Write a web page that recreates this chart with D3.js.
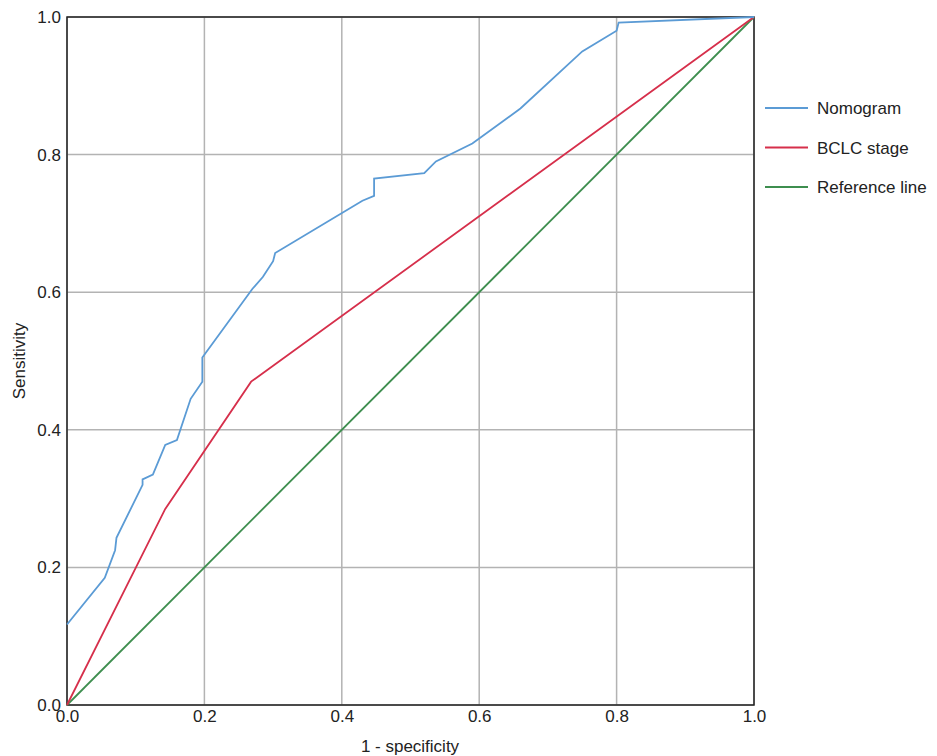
<!DOCTYPE html>
<html><head><meta charset="utf-8">
<script src="https://cdn.jsdelivr.net/npm/d3@7"></script>
<style>body{margin:0;background:#fff;font-family:"Liberation Sans",Arial,sans-serif}</style>
</head><body><svg id="c" width="937" height="756"></svg>
<script>
const ticks=[0,0.2,0.4,0.6,0.8,1.0];
const nomoX=[0,0.055,0.07,0.072,0.11,0.11,0.125,0.143,0.16,0.18,0.197,0.197,0.27,0.285,0.3,0.303,0.43,0.447,0.447,0.52,0.537,0.59,0.66,0.75,0.8,0.803,1];
const nomoY=[0.117,0.185,0.225,0.243,0.32,0.328,0.335,0.378,0.385,0.445,0.47,0.505,0.605,0.622,0.645,0.657,0.733,0.74,0.765,0.773,0.79,0.816,0.867,0.95,0.98,0.992,1];
const bclcX=[0,0.143,0.268,1];
const bclcY=[0,0.285,0.47,1];
const refX=[0,1], refY=[0,1];
const seriesNames=["Nomogram","BCLC stage","Reference line"];
const colors=["#5b9bd5","#d62f4b","#3e8e4f"];
const FS=17;
const svg=d3.select("#c");
const x=d3.scaleLinear([0,1],[67,754]);
const y=d3.scaleLinear([0,1],[705,17]);
const g=svg.append("g");
g.selectAll(".vx").data(ticks).join("line").attr("x1",d=>x(d)).attr("x2",d=>x(d)).attr("y1",y(0)).attr("y2",y(1)).attr("stroke","#b3b3b3").attr("stroke-width",1.5);
g.selectAll(".hy").data(ticks).join("line").attr("y1",d=>y(d)).attr("y2",d=>y(d)).attr("x1",x(0)).attr("x2",x(1)).attr("stroke","#b3b3b3").attr("stroke-width",1.5);
g.append("rect").attr("x",x(0)).attr("y",y(1)).attr("width",x(1)-x(0)).attr("height",y(0)-y(1)).attr("fill","none").attr("stroke","#222").attr("stroke-width",1.5);
const xa=svg.append("g").attr("transform",`translate(0,${y(0)})`).call(d3.axisBottom(x).tickValues(ticks).tickFormat(d3.format(".1f")).tickSize(0).tickPadding(5));
const ya=svg.append("g").attr("transform",`translate(${x(0)},0)`).call(d3.axisLeft(y).tickValues(ticks).tickFormat(d3.format(".1f")).tickSize(0).tickPadding(6));
[xa,ya].forEach(a=>{a.select(".domain").remove();a.selectAll("text").attr("font-size",FS).attr("fill","#222").attr("font-family","Liberation Sans, Arial");});
const line=d3.line().x(d=>x(d[0])).y(d=>y(d[1]));
const data=[d3.zip(nomoX,nomoY),d3.zip(bclcX,bclcY),d3.zip(refX,refY)];
[2,1,0].forEach(i=>svg.append("path").attr("d",line(data[i])).attr("fill","none").attr("stroke",colors[i]).attr("stroke-width",1.8));
seriesNames.forEach((n,i)=>{const yy=108+i*39.5;
svg.append("line").attr("x1",765).attr("x2",808).attr("y1",yy).attr("y2",yy).attr("stroke",colors[i]).attr("stroke-width",1.8);
svg.append("text").attr("x",817).attr("y",yy+6).attr("font-size",FS).attr("fill","#222").text(n);});
svg.append("text").attr("x",410).attr("y",752).attr("text-anchor","middle").attr("font-size",FS).attr("fill","#222").text("1 - specificity");
svg.append("text").attr("transform",`translate(25,361) rotate(-90)`).attr("text-anchor","middle").attr("font-size",FS).attr("fill","#222").text("Sensitivity");
</script></body></html>
